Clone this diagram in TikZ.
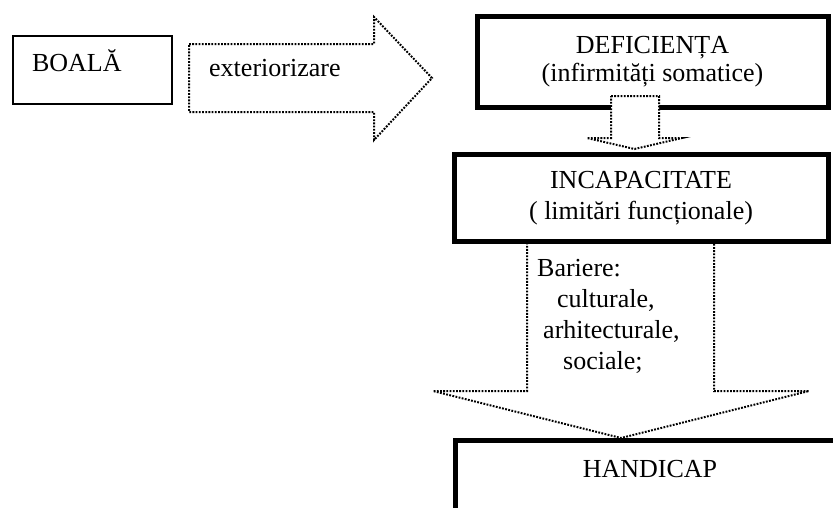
\documentclass[tikz,border=0pt]{standalone}
\usepackage{fontspec}
\setmainfont{Liberation Serif}
\begin{document}
\begin{tikzpicture}[x=1pt, y=-1pt,
    every node/.style={font=\fontsize{26}{31}\selectfont},
    thinbox/.style={draw, line width=1.3pt, inner sep=0pt, outer sep=0pt},
    thickbox/.style={draw, line width=5pt, inner sep=0pt, outer sep=0pt, align=center},
    dotline/.style={line width=2pt, dash pattern=on 1.8pt off 1.4pt}]
    % Page
    \fill[white] (0,0) rectangle (833,507);
    \clip (0,0) rectangle (833,507);
    % Boxes
    \node[thinbox, minimum width=159pt, minimum height=68pt, text width=121pt,
        inner xsep=19pt, text height=15pt, text depth=13pt] (boala) at (92.5,70) {BOALĂ};
    \node[thickbox, minimum width=351pt, minimum height=91pt] (deficienta) at (652.5,62)
        {DEFICIENȚA\\[-3pt](infirmități somatice)};
    \node[thickbox, minimum width=374pt, minimum height=87pt] (incapacitate) at (641,198)
        {INCAPACITATE\\( limitări funcționale)};
    \node[thickbox, anchor=north west, minimum width=390pt, inner ysep=18.5pt,
        text height=18pt, text depth=100pt] (handicap) at (455,440.5) {HANDICAP};
    % Arrow BOALA -> DEFICIENTA
    \draw[dotline] (189,44) -- (374,44) -- (374,17) -- (432,78) -- (374,140)
        -- (374,112) -- (189,112) -- cycle;
    \node[anchor=base west, inner sep=0pt] (exterior) at (209,76) {exteriorizare};
    % Arrow DEFICIENTA -> INCAPACITATE
    \filldraw[dotline, fill=white] (611,96) -- (659,96) -- (659,138) -- (682,138)
        -- (634.5,149) -- (587,138) -- (611,138) -- cycle;
    % Arrow INCAPACITATE -> HANDICAP
    \draw[dotline] (527,242) -- (714,242) -- (714,391) -- (809,391) -- (621,438)
        -- (433,391) -- (527,391) -- cycle;
    \node[anchor=base west, align=left, inner sep=0pt] (bariere) at (537,369)
        {Bariere:\\\hspace*{20pt}culturale,\\\hspace*{6pt}arhitecturale,\\\hspace*{26pt}sociale;};
\end{tikzpicture}
\end{document}
